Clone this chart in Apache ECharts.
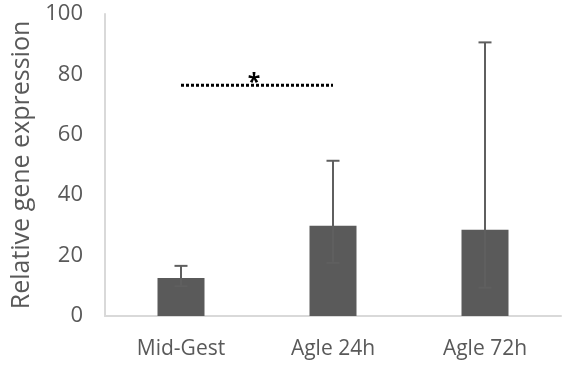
<!DOCTYPE html>
<html>
<head>
<meta charset="utf-8">
<script src="https://cdn.jsdelivr.net/npm/echarts@6/dist/echarts.min.js"></script>
<style>
  html, body { margin: 0; padding: 0; background: #fff; }
  #chart { width: 569px; height: 369px; }
</style>
</head>
<body>
<div id="chart"></div>
<script>
// Group labels and mean expression
const categories = ['Mid-Gest', 'Agle 24h', 'Agle 72h'];
const means = [12.6, 29.9, 28.6];
// Error bar ends (upper and lower)
const errUpper = [16.6, 51.4, 90.6];
const errLower = [9.9, 17.6, 9.4];
// Significance bracket between two groups
const sigFrom = 0;
const sigTo = 1;
const sigLevel = 76.4;
const sigLabel = '*';
// Value axis ticks
const yMin = 0, yMax = 100, yStep = 20;

const textColor = '#595959';
const font = 'Open Sans';

const chart = echarts.init(document.getElementById('chart'));

chart.setOption({
  animation: false,
  grid: { left: 105, right: 8, top: 14, bottom: 53, containLabel: false, outerBoundsMode: 'none' },
  xAxis: {
    type: 'category',
    data: categories,
    axisLine: { lineStyle: { color: '#d9d9d9', width: 2 } },
    axisTick: { show: false },
    axisLabel: { color: textColor, fontFamily: font, fontSize: 21, margin: 23 }
  },
  yAxis: {
    type: 'value',
    min: yMin, max: yMax, interval: yStep,
    name: 'Relative gene expression',
    nameLocation: 'middle',
    nameGap: 71,
    nameTextStyle: { color: textColor, fontFamily: font, fontSize: 25 },
    axisLine: { show: true, lineStyle: { color: '#d9d9d9', width: 2 } },
    axisTick: { show: false },
    splitLine: { show: false },
    axisLabel: { color: textColor, fontFamily: font, fontSize: 22, margin: 22 }
  },
  series: [
    {
      type: 'bar',
      data: means,
      barWidth: 47,
      itemStyle: { color: '#5a5a5a' },
      z: 2
    },
    {
      // whiskers with caps at both ends
      type: 'custom',
      z: 3,
      data: categories.map((c, i) => [i, errLower[i], errUpper[i]]),
      renderItem: function (params, api) {
        const x = api.value(0);
        const lo = api.coord([x, api.value(1)]);
        const hi = api.coord([x, api.value(2)]);
        const half = 6.5;
        const style = { stroke: '#5f5f5f', lineWidth: 2 };
        return {
          type: 'group',
          children: [
            { type: 'line', shape: { x1: lo[0], y1: lo[1], x2: hi[0], y2: hi[1] }, style },
            { type: 'line', shape: { x1: hi[0] - half, y1: hi[1], x2: hi[0] + half, y2: hi[1] }, style },
            { type: 'line', shape: { x1: lo[0] - half, y1: lo[1], x2: lo[0] + half, y2: lo[1] }, style }
          ]
        };
      }
    },
    {
      // significance bracket: dotted line with a marker above it
      type: 'custom',
      z: 4,
      data: [[sigFrom, sigTo, sigLevel]],
      renderItem: function (params, api) {
        const a = api.coord([api.value(0), api.value(2)]);
        const b = api.coord([api.value(1), api.value(2)]);
        return {
          type: 'group',
          children: [
            {
              type: 'line',
              shape: { x1: a[0], y1: a[1], x2: b[0], y2: b[1] },
              style: { stroke: '#000', lineWidth: 3, lineDash: [3, 2] }
            },
            {
              type: 'text',
              x: (a[0] + b[0]) / 2 - 3,
              y: a[1] - 2,
              style: {
                text: sigLabel,
                fill: '#000',
                font: 'bold 23px "Open Sans"',
                align: 'center',
                verticalAlign: 'middle'
              }
            }
          ]
        };
      }
    }
  ]
});
</script>
</body>
</html>
